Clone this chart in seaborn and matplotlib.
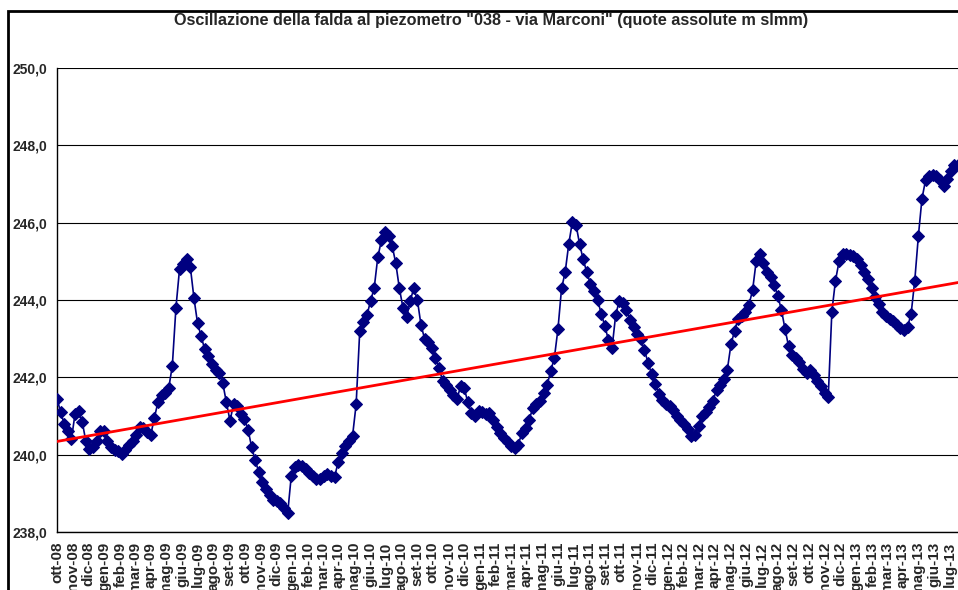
import numpy as np
import pandas as pd
import matplotlib.pyplot as plt
import matplotlib.dates as mdates
import seaborn as sns
from matplotlib.ticker import FuncFormatter
from matplotlib.patches import Rectangle

# Weekly piezometric levels (m slmm), from 1 Oct 2008
lev_0809 = [241.45, 241.1, 240.8, 240.6, 240.4, 241.05, 241.12, 240.85, 240.35, 240.15,
            240.2, 240.35, 240.6, 240.6, 240.35, 240.2, 240.12, 240.1, 240.02, 240.12,
            240.25, 240.35, 240.52, 240.72, 240.68, 240.58, 240.5, 240.95, 241.35, 241.54,
            241.6, 241.72, 242.3, 243.8, 244.8, 244.92, 245.05, 244.85, 244.05, 243.4,
            243.06, 242.72, 242.55, 242.35, 242.2, 242.1, 241.85, 241.35, 240.88, 241.3,
            241.25, 241.06]
lev_0910 = [240.93, 240.65, 240.2, 239.85, 239.55, 239.3, 239.12, 238.95, 238.83, 238.8,
            238.75, 238.62, 238.48, 239.45, 239.68, 239.72, 239.7, 239.62, 239.52, 239.44,
            239.38, 239.37, 239.44, 239.5, 239.45, 239.42, 239.8, 240.05, 240.22, 240.36,
            240.48, 241.3, 243.2, 243.42, 243.6, 243.98, 244.3, 245.1, 245.54, 245.75,
            245.65, 245.4, 244.95, 244.3, 243.8, 243.55, 243.98, 244.3, 244.0, 243.35,
            243.0, 242.92]
lev_1011 = [242.75, 242.5, 242.25, 241.9, 241.8, 241.68, 241.55, 241.45, 241.77, 241.72,
            241.35, 241.08, 241.0, 241.12, 241.1, 241.04, 241.08, 240.9, 240.72, 240.55,
            240.43, 240.32, 240.23, 240.17, 240.26, 240.57, 240.7, 240.9, 241.2, 241.32,
            241.4, 241.6, 241.8, 242.17, 242.5, 243.25, 244.3, 244.72, 245.45, 246.02,
            245.95, 245.45, 245.05, 244.72, 244.42, 244.22, 244.0, 243.65, 243.33, 242.97,
            242.75, 243.6]
lev_1112 = [243.98, 243.92, 243.75, 243.49, 243.3, 243.12, 242.98, 242.7, 242.38, 242.08,
            241.83, 241.58, 241.42, 241.32, 241.25, 241.15, 240.99, 240.9, 240.8, 240.66,
            240.48, 240.5, 240.75, 241.0, 241.1, 241.22, 241.4, 241.67, 241.8, 241.95,
            242.2, 242.85, 243.2, 243.52, 243.58, 243.7, 243.88, 244.25, 245.0, 245.2,
            244.95, 244.72, 244.6, 244.4, 244.1, 243.75, 243.25, 242.8, 242.57, 242.5,
            242.4, 242.22]
lev_1213 = [242.12, 242.18, 242.05, 241.9, 241.78, 241.6, 241.5, 243.7, 244.5, 245.0,
            245.2, 245.2, 245.17, 245.14, 245.07, 244.9, 244.73, 244.55, 244.3, 244.08,
            243.9, 243.7, 243.58, 243.5, 243.45, 243.35, 243.27, 243.23, 243.3, 243.65,
            244.5, 245.65, 246.62, 247.1, 247.2, 247.22, 247.21, 247.1, 246.96, 247.12,
            247.33, 247.48, 247.5]

mesi = ['gen', 'feb', 'mar', 'apr', 'mag', 'giu', 'lug', 'ago', 'set', 'ott', 'nov', 'dic']
y_ticks = [238, 240, 242, 244, 246, 248, 250]

levels = lev_0809 + lev_0910 + lev_1011 + lev_1112 + lev_1213
df = pd.DataFrame({
    'data': pd.date_range('2008-10-01', periods=len(levels), freq='7D'),
    'quota': levels,
})

sns.set_style('white')
plt.rcParams['font.family'] = ['Liberation Sans', 'DejaVu Sans']

fig = plt.figure(figsize=(9.58, 5.90), dpi=100)
ax = fig.add_axes([57 / 958, 1 - 532 / 590, 1 - 57 / 958, (532 - 68) / 590])

# outer chart border (Excel chart area)
fig.patches.append(Rectangle((8 / 958, -0.1), 1.2, 1 - 11 / 590 + 0.1, transform=fig.transFigure,
                             fill=False, edgecolor='black', linewidth=2, zorder=0))

x0, x1 = pd.Timestamp('2008-10-01'), pd.Timestamp('2013-07-17')
ax.set_xlim(x0, x1)
ax.set_ylim(238, 250)
for yv in y_ticks:
    ax.axhline(yv, color='black', linewidth=0.8, zorder=1)

sns.lineplot(data=df, x='data', y='quota', ax=ax, color='#000080', linewidth=1.2,
             marker='D', markersize=6, markeredgecolor='#000080', zorder=3)

# linear trend line
xn = mdates.date2num(df['data'])
coef = np.polyfit(xn, df['quota'], 1)
xt = mdates.date2num([x0, x1])
ax.plot([x0, x1], np.polyval(coef, xt), color='red', linewidth=2, zorder=4)

mesi_ticks = pd.date_range('2008-10-01', '2013-07-01', freq='MS')
ax.set_xticks(mesi_ticks)
ax.set_xticklabels([f"{mesi[d.month - 1]}-{d.year % 100:02d}" for d in mesi_ticks],
                   rotation=90, fontsize=11, fontweight='bold')
ax.set_yticks(y_ticks)
ax.yaxis.set_major_formatter(FuncFormatter(lambda v, p: f"{v:.1f}".replace('.', ',')))
for lab in ax.get_yticklabels():
    lab.set_fontweight('bold')
    lab.set_fontsize(10)
ax.tick_params(axis='both', direction='out', length=5, width=1, color='black', pad=2)
ax.tick_params(axis='x', length=4, pad=3)

for s in ['top', 'right']:
    ax.spines[s].set_visible(False)
for s in ['left', 'bottom']:
    ax.spines[s].set_color('black')
    ax.spines[s].set_linewidth(1)

ax.set_xlabel('')
ax.set_ylabel('')
fig.text(491 / 958, 1 - 20 / 590, 'Oscillazione della falda al piezometro "038 - via Marconi" (quote assolute m slmm)',
         ha='center', va='center', fontsize=11.7, fontweight='bold')

fig.savefig('out.png', dpi=100)
